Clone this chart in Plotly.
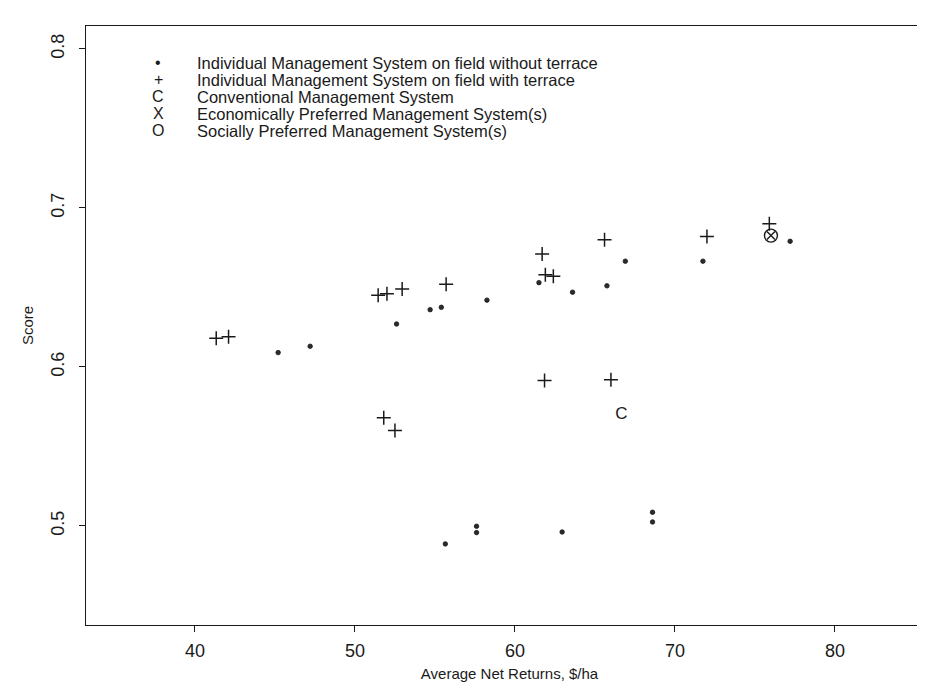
import plotly.graph_objects as go

# Individual management systems on fields without terrace (dots)
no_terrace_returns = [45.2, 47.2, 52.6, 54.7, 55.4, 58.25, 61.5, 63.6, 65.75, 66.9, 71.75, 77.2,
                      55.65, 57.6, 57.6, 62.95, 68.6, 68.6]
no_terrace_score = [0.609, 0.613, 0.627, 0.636, 0.6375, 0.642, 0.653, 0.647, 0.651, 0.6665, 0.6665, 0.679,
                    0.4887, 0.4998, 0.4958, 0.4962, 0.5086, 0.5025]

# Individual management systems on fields with terrace (crosses)
terrace_returns = [41.33, 42.1, 51.45, 52.0, 52.95, 55.7, 61.7, 61.9, 62.4, 65.6, 72.0, 75.9,
                   61.85, 66.0, 51.8, 52.5]
terrace_score = [0.618, 0.619, 0.645, 0.646, 0.649, 0.652, 0.671, 0.658, 0.657, 0.680, 0.682, 0.690,
                 0.5915, 0.592, 0.568, 0.560]

# Conventional, economically and socially preferred systems
conventional_returns = [66.65]
conventional_score = [0.570]
econ_pref_returns = [76.0]
econ_pref_score = [0.6826]
social_pref_returns = [76.0]
social_pref_score = [0.6826]

x_ticks = [40, 50, 60, 70, 80]
y_ticks = [0.5, 0.6, 0.7, 0.8]

legend_symbols = ["•", "+", "C", "X", "O"]
legend_labels = [
    "Individual Management System on field without terrace",
    "Individual Management System on field with terrace",
    "Conventional Management System",
    "Economically Preferred Management System(s)",
    "Socially Preferred Management System(s)",
]

FONT = "Liberation Sans, Arial, Helvetica, sans-serif"
INK = "#1a1a1a"

fig = go.Figure()
fig.add_trace(go.Scatter(x=no_terrace_returns, y=no_terrace_score, mode="markers",
                         marker=dict(symbol="circle", size=4.5, color="#2a2a2a",
                                     line=dict(width=0.8, color=INK)),
                         showlegend=False))
fig.add_trace(go.Scatter(x=terrace_returns, y=terrace_score, mode="markers",
                         marker=dict(symbol="cross-thin-open", size=10, color=INK,
                                     line=dict(width=1.5, color=INK)),
                         showlegend=False))
fig.add_trace(go.Scatter(x=conventional_returns, y=conventional_score, mode="text",
                         text=["C"], textfont=dict(family=FONT, size=17, color=INK),
                         showlegend=False))
fig.add_trace(go.Scatter(x=econ_pref_returns, y=econ_pref_score, mode="markers",
                         marker=dict(symbol="x-thin-open", size=8, color=INK,
                                     line=dict(width=1.4, color=INK)),
                         showlegend=False))
fig.add_trace(go.Scatter(x=social_pref_returns, y=social_pref_score, mode="markers",
                         marker=dict(symbol="circle-open", size=13, color=INK,
                                     line=dict(width=1.4, color=INK)),
                         showlegend=False))

# legend block drawn as text
L, R, T, B = 78, 0, 18, 69
W, H = 925, 686
pw, ph = W - L - R, H - T - B
sym_x_px, text_x_px = 150, 187
line_y_px = [55, 72, 89, 106, 123]
for sym, lab, ypx in zip(legend_symbols, legend_labels, line_y_px):
    yp = 1 - (ypx - T) / ph
    fig.add_annotation(xref="paper", yref="paper", x=(sym_x_px - L) / pw, y=yp,
                       text=sym, showarrow=False, xanchor="center", yanchor="middle",
                       font=dict(family=FONT, size=16, color=INK))
    fig.add_annotation(xref="paper", yref="paper", x=(text_x_px - L) / pw, y=yp,
                       text=lab, showarrow=False, xanchor="left", yanchor="middle",
                       font=dict(family=FONT, size=16.5, color=INK))

fig.update_layout(
    width=W, height=H,
    margin=dict(l=L, r=R, t=T, b=B, pad=0),
    paper_bgcolor="white", plot_bgcolor="white",
    font=dict(family=FONT, size=16, color=INK),
    xaxis=dict(range=[33.19, 86.13], tickvals=x_ticks, ticktext=[str(v) for v in x_ticks],
               automargin=False,
               showgrid=False, zeroline=False, showline=True, linecolor=INK, linewidth=1.3,
               mirror=True, ticks="outside", ticklen=6, tickcolor=INK, ticklabelstandoff=3,
               tickfont=dict(family=FONT, size=18, color=INK),
               title=dict(text="Average Net Returns, $/ha", standoff=8,
                          font=dict(family=FONT, size=15, color=INK))),
    yaxis=dict(range=[0.4377, 0.8144], tickvals=y_ticks, ticktext=[str(v) for v in y_ticks],
               automargin=False,
               showgrid=False, zeroline=False, showline=True, linecolor=INK, linewidth=1.3,
               mirror=False, ticks="outside", ticklen=6, tickcolor=INK, tickangle=-90,
               ticklabelstandoff=8,
               tickfont=dict(family=FONT, size=18, color=INK),
               title=dict(text="Score", standoff=10,
                          font=dict(family=FONT, size=15, color=INK))),
)

fig.write_html("out.html")
